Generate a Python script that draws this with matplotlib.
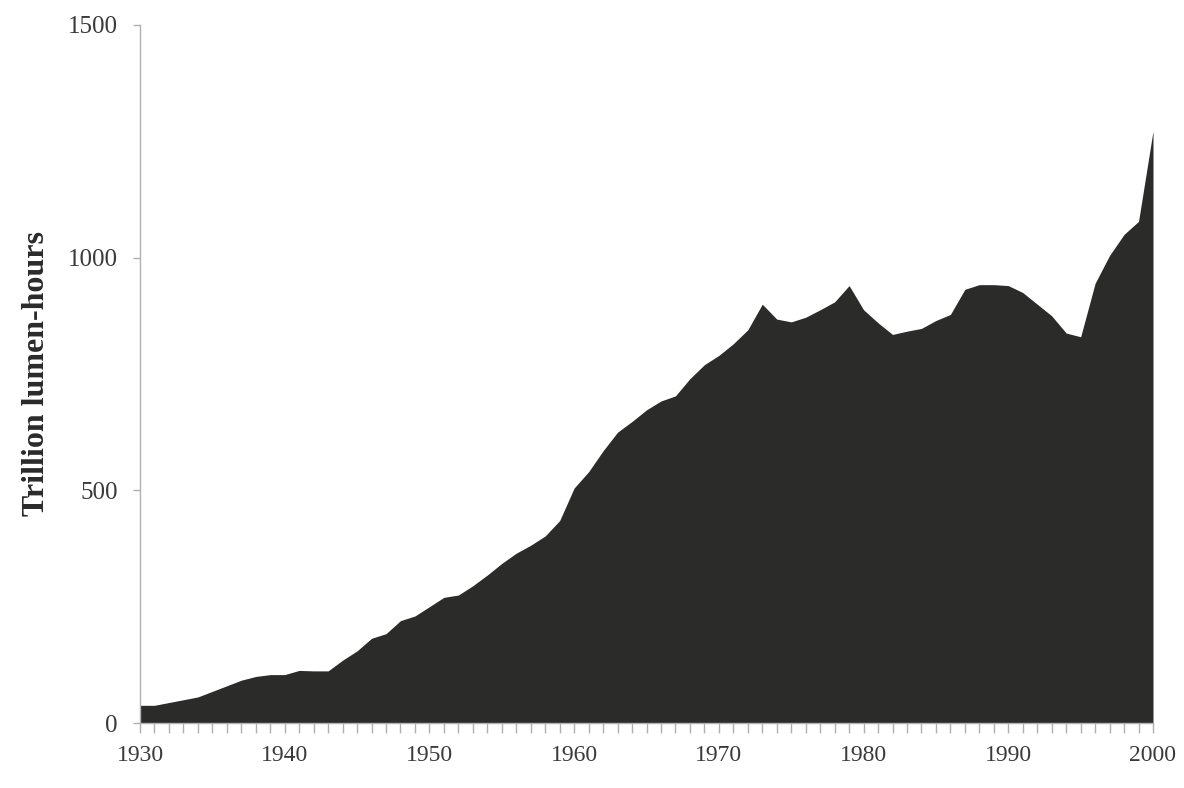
import matplotlib
matplotlib.use("Agg")
import matplotlib.pyplot as plt
from matplotlib.ticker import MultipleLocator

years = list(range(1930, 2001))
lumen_hours = [
    38, 38, 44, 50, 56, 68, 80, 92, 100, 104,      # 1930-1939
    104, 113, 112, 112, 135, 155, 182, 192, 220, 230,  # 1940-1949
    250, 270, 275, 295, 318, 343, 365, 382, 402, 435,  # 1950-1959
    505, 540, 585, 625, 648, 673, 692, 703, 740, 770,  # 1960-1969
    790, 815, 845, 900, 868, 862, 872, 888, 905, 940,  # 1970-1979
    888, 860, 835, 842, 848, 865, 878, 932, 942, 942,  # 1980-1989
    940, 925, 900, 875, 838, 830, 945, 1005, 1050, 1078,  # 1990-1999
    1272,                                            # 2000
]
y_ticks = [0, 500, 1000, 1500]
x_ticks = [1930, 1940, 1950, 1960, 1970, 1980, 1990, 2000]
y_label = "Trillion lumen-hours"

plt.rcParams['font.family'] = ['Liberation Serif', 'DejaVu Serif']

fig = plt.figure(figsize=(11.84, 7.88), dpi=100)
ax = fig.add_axes([140 / 1184, 1 - 723 / 788, (1153 - 140) / 1184, (723 - 25) / 788])

ax.fill_between(years, lumen_hours, 0, color='#2b2c2a', linewidth=0)

ax.set_xlim(1930, 2000)
ax.set_ylim(0, 1500)
ax.set_yticks(y_ticks)
ax.set_xticks(x_ticks)
ax.xaxis.set_minor_locator(MultipleLocator(1))

for s in ['top', 'right']:
    ax.spines[s].set_visible(False)
for s in ['left', 'bottom']:
    ax.spines[s].set_color('#b0b0b0')
    ax.spines[s].set_linewidth(1.0)

ax.tick_params(axis='y', which='major', direction='out', length=5, width=1,
               color='#b0b0b0', labelsize=18, labelcolor='#3a3a3a', pad=11)
ax.tick_params(axis='x', which='both', direction='out', length=7, width=1,
               color='#b0b0b0', labelsize=17, labelcolor='#3a3a3a', pad=9)

ax.set_ylabel(y_label, fontsize=23, fontweight='bold', color='#2a2a2a', labelpad=12)

fig.savefig('out.png', dpi=100, facecolor='white')
